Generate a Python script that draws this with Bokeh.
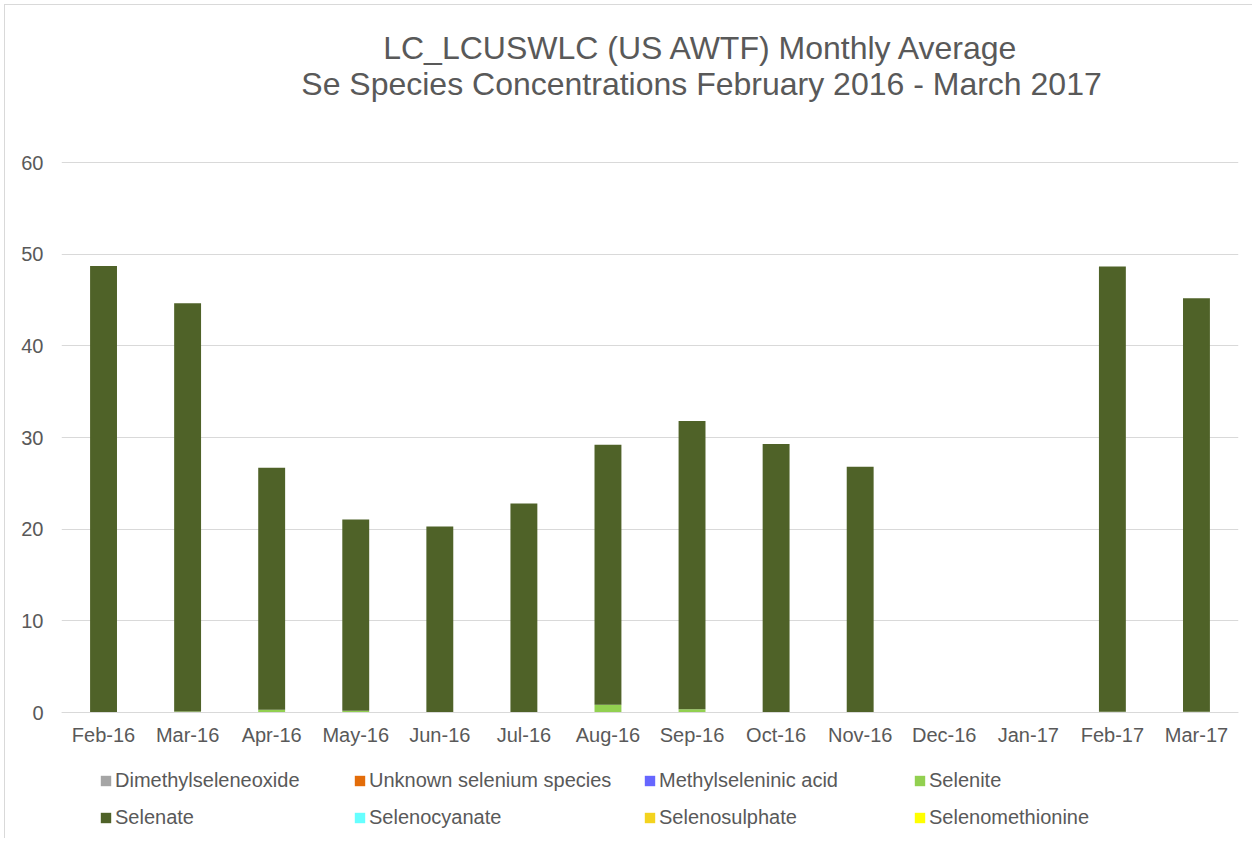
from bokeh.plotting import figure
from bokeh.models import Label, Legend, LegendItem, FactorRange, Range1d, FixedTicker
from bokeh.embed import file_html
from bokeh.resources import INLINE

months = ["Feb-16", "Mar-16", "Apr-16", "May-16", "Jun-16", "Jul-16", "Aug-16",
          "Sep-16", "Oct-16", "Nov-16", "Dec-16", "Jan-17", "Feb-17", "Mar-17"]

dimethylseleneoxide = [0, 0, 0, 0, 0, 0, 0, 0, 0, 0, 0, 0, 0, 0]
unknown_species = [0, 0, 0, 0, 0, 0, 0, 0, 0, 0, 0, 0, 0, 0]
methylseleninic_acid = [0, 0, 0, 0, 0, 0, 0, 0, 0, 0, 0, 0, 0, 0]
selenite = [0.05, 0.12, 0.3, 0.18, 0.05, 0.05, 0.85, 0.35, 0.05, 0.05, 0, 0, 0.08, 0.08]
selenate = [48.65, 44.53, 26.4, 20.87, 20.25, 22.75, 28.35, 31.45, 29.25, 26.75, 0, 0, 48.57, 45.12]
selenocyanate = [0, 0, 0, 0, 0, 0, 0, 0, 0, 0, 0, 0, 0, 0]
selenosulphate = [0, 0, 0, 0, 0, 0, 0, 0, 0, 0, 0, 0, 0, 0]
selenomethionine = [0, 0, 0, 0, 0, 0, 0, 0, 0, 0, 0, 0, 0, 0]

series_names = ["Dimethylseleneoxide", "Unknown selenium species", "Methylseleninic acid",
                "Selenite", "Selenate", "Selenocyanate", "Selenosulphate", "Selenomethionine"]
series_keys = ["dmse", "unk", "msa", "selenite", "selenate", "scn", "sso", "smet"]
series_colors = ["#A5A5A5", "#E36C09", "#6666FF", "#92D050", "#4F6228", "#66FFFF", "#F3D31F", "#FFFF00"]

y_ticks = [0, 10, 20, 30, 40, 50, 60]
title_line1 = "LC_LCUSWLC (US AWTF) Monthly Average"
title_line2 = "Se Species Concentrations February 2016 - March 2017"

FONT = "Liberation Sans"
TXT = "#595959"
GRID = "#D9D9D9"

# layout (pixels, figure coordinates; figure content starts 5px into the page)
W, H = 1248, 834
LEFT, RIGHT = 56, 15
Y0_PX, Y60_PX = 707, 157          # pixel rows of value 0 and value 60
ppu = (Y0_PX - Y60_PX) / 60.0
y_lo = -(H - Y0_PX) / ppu
y_hi = 60 + Y60_PX / ppu

data = dict(months=months, dmse=dimethylseleneoxide, unk=unknown_species,
            msa=methylseleninic_acid, selenite=selenite, selenate=selenate,
            scn=selenocyanate, sso=selenosulphate, smet=selenomethionine)

p = figure(width=W, height=H, x_range=FactorRange(*months), y_range=Range1d(y_lo, y_hi),
           output_backend="svg", toolbar_location=None,
           min_border_left=LEFT, min_border_right=RIGHT, min_border_top=0, min_border_bottom=0)
p.styles = {"margin-left": "4px", "margin-top": "4px",
            "border-left": "1px solid #D9D9D9", "border-top": "1px solid #D9D9D9"}
p.outline_line_color = None
p.background_fill_color = "white"

renderers = p.vbar_stack(series_keys, x="months", width=0.32, color=series_colors,
                         line_color=None, source=data)

p.xgrid.grid_line_color = None
p.ygrid.grid_line_color = GRID
p.ygrid.grid_line_width = 1
p.yaxis.ticker = FixedTicker(ticks=y_ticks)
p.yaxis.axis_line_color = None
p.yaxis.major_tick_line_color = None
p.yaxis.minor_tick_line_color = None
p.yaxis.major_tick_out = 0
p.yaxis.major_tick_in = 0
p.yaxis.major_label_standoff = 18
p.xaxis.fixed_location = 0
p.xaxis.axis_line_color = GRID
p.xaxis.major_tick_line_color = None
p.xaxis.minor_tick_line_color = None
p.xaxis.major_tick_out = 0
p.xaxis.major_tick_in = 0
p.xaxis.major_label_standoff = 11
for ax in (p.xaxis, p.yaxis):
    ax.major_label_text_font = FONT
    ax.major_label_text_font_size = "20px"
    ax.major_label_text_color = TXT

# Title lines (screen units from frame bottom-left)
p.add_layout(Label(x=640, y=792, x_units="screen", y_units="screen", text=title_line1,
                   text_align="center", text_baseline="middle", text_font=FONT,
                   text_font_size="32px", text_color=TXT))
p.add_layout(Label(x=640, y=756, x_units="screen", y_units="screen", text=title_line2,
                   text_align="center", text_baseline="middle", text_font=FONT,
                   text_font_size="32px", text_color=TXT))

# Legend: 4 columns x 2 rows
col_x = [38, 292, 582, 852]
for c in range(4):
    items = [LegendItem(label=series_names[c], renderers=[renderers[c]]),
             LegendItem(label=series_names[c + 4], renderers=[renderers[c + 4]])]
    leg = Legend(items=items, location=(col_x[c], 10), orientation="vertical",
                 padding=0, margin=0, spacing=14, glyph_width=13, glyph_height=13,
                 label_height=23, label_standoff=3, label_text_font=FONT,
                 label_text_font_size="20px", label_text_color=TXT,
                 background_fill_alpha=0, border_line_color=None)
    p.add_layout(leg, "center")

open("out.html", "w").write(file_html(p, INLINE))
